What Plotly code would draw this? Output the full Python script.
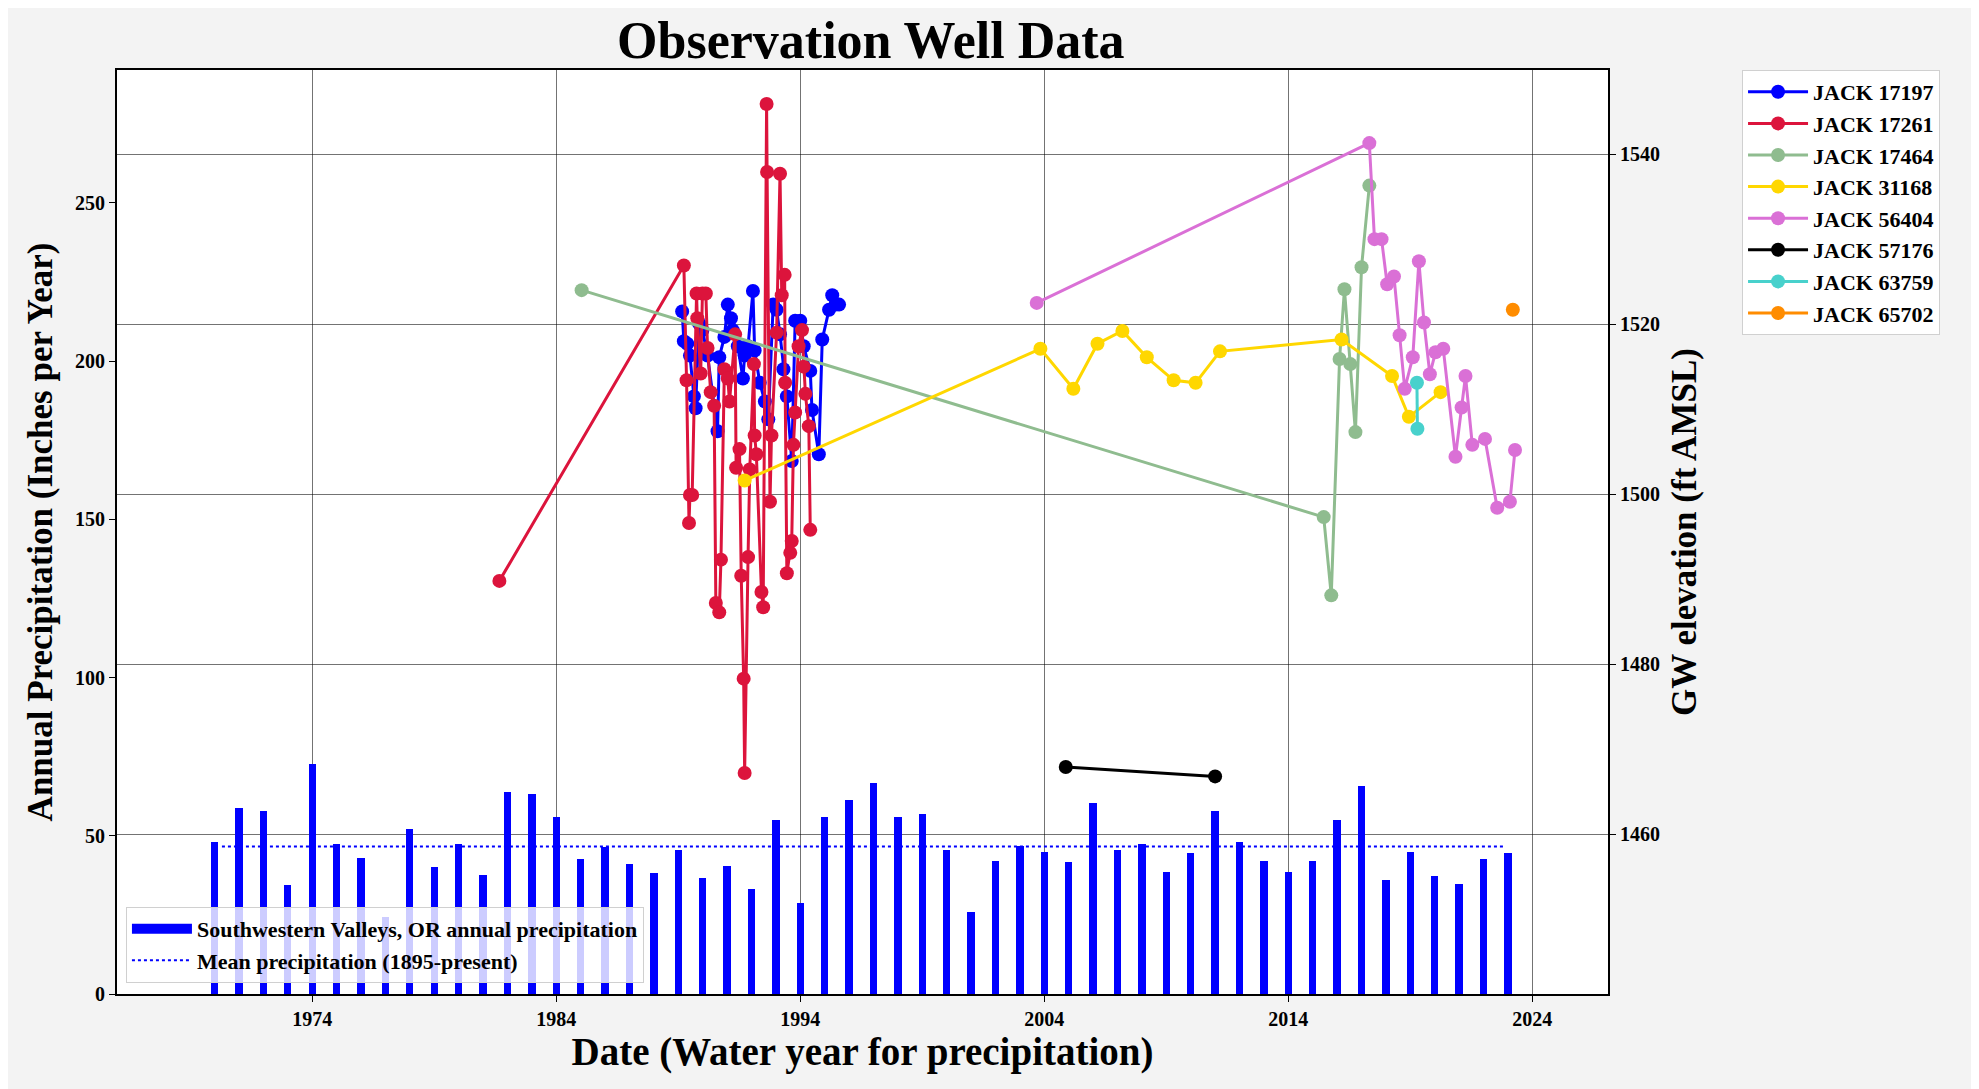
import plotly.graph_objects as go

# ---------------- data ----------------
precip_years = list(range(1970, 2024))
precip_values = [48.1, 58.9, 57.8, 34.3, 72.6, 47.4, 43.1, 24.2, 52.0, 40.2,
                 47.4, 37.7, 63.8, 63.2, 55.9, 42.6, 46.6, 41.0, 38.2, 45.5,
                 36.7, 40.6, 33.2, 54.9, 28.9, 55.9, 61.4, 66.7, 55.9, 57.0,
                 45.5, 25.9, 42.1, 46.8, 45.0, 41.6, 60.3, 45.5, 47.3, 38.6,
                 44.5, 57.8, 47.9, 42.1, 38.6, 42.1, 54.9, 65.6, 36.1, 44.9,
                 37.2, 34.8, 42.6, 44.5]
mean_precip = 46.6
mean_span = [1970.3, 2022.8]

jack17197_x = [1989.16, 1989.23, 1989.37, 1989.48, 1989.64, 1989.71, 1989.85, 1989.99,
               1990.20, 1990.61, 1990.68, 1990.89, 1991.03, 1991.16, 1991.23, 1991.44,
               1991.65, 1991.72, 1991.86, 1992.06, 1992.13, 1992.34, 1992.55, 1992.69,
               1992.89, 1993.03, 1993.17, 1993.31, 1993.45, 1993.65, 1993.79, 1994.00,
               1994.14, 1994.41, 1994.48, 1994.76, 1994.90, 1995.18, 1995.31, 1995.45,
               1995.59]
jack17197_y = [1521.5, 1518.0, 1517.7, 1516.3, 1511.5, 1510.1, 1520.1, 1519.3,
               1516.3, 1507.4, 1516.1, 1518.5, 1522.3, 1520.7, 1519.3, 1517.4,
               1513.6, 1516.3, 1517.4, 1523.9, 1516.9, 1513.1, 1510.9, 1508.8,
               1522.3, 1521.7, 1518.8, 1514.7, 1511.5, 1503.9, 1520.4, 1520.4,
               1517.4, 1514.5, 1509.9, 1504.7, 1518.2, 1521.7, 1523.4, 1522.3,
               1522.3]

jack17261_x = [1981.67, 1989.23, 1989.34, 1989.44, 1989.48, 1989.57, 1989.75, 1989.78,
               1989.92, 1989.99, 1990.13, 1990.20, 1990.33, 1990.47, 1990.54, 1990.68,
               1990.75, 1990.89, 1991.03, 1991.10, 1991.33, 1991.37, 1991.51, 1991.58,
               1991.68, 1991.72, 1991.86, 1991.93, 1992.10, 1992.13, 1992.20, 1992.41,
               1992.48, 1992.62, 1992.64, 1992.76, 1992.82, 1993.03, 1993.17, 1993.24,
               1993.36, 1993.38, 1993.45, 1993.59, 1993.65, 1993.72, 1993.79, 1993.93,
               1994.07, 1994.14, 1994.21, 1994.35, 1994.41]
jack17261_y = [1489.8, 1526.9, 1513.4, 1496.6, 1499.9, 1499.9, 1523.6, 1520.7,
               1514.2, 1523.6, 1523.6, 1517.2, 1512.0, 1510.4, 1487.2, 1486.1,
               1492.3, 1514.7, 1513.6, 1510.9, 1518.8, 1503.1, 1505.3, 1490.4,
               1478.3, 1467.2, 1492.6, 1502.9, 1515.3, 1506.9, 1504.7, 1488.5,
               1486.7, 1545.9, 1537.9, 1499.1, 1506.9, 1519.0, 1537.7, 1523.4,
               1525.8, 1513.1, 1490.7, 1493.1, 1494.5, 1505.8, 1509.6, 1517.4,
               1519.3, 1515.0, 1511.8, 1508.0, 1495.8]

jack17464_x = [1985.04, 2015.45, 2015.76, 2016.10, 2016.30, 2016.54, 2016.75, 2017.00, 2017.32]
jack17464_y = [1524.0, 1497.3, 1488.1, 1515.9, 1524.1, 1515.3, 1507.3, 1526.7, 1536.3]

jack31168_x = [1991.72, 2003.84, 2005.19, 2006.18, 2007.20, 2008.20, 2009.30, 2010.20,
               2011.20, 2016.18, 2018.25, 2018.94, 2020.24]
jack31168_y = [1501.6, 1517.1, 1512.4, 1517.7, 1519.2, 1516.1, 1513.4, 1513.1,
               1516.8, 1518.2, 1513.9, 1509.1, 1512.0]

jack56404_x = [2003.69, 2017.32, 2017.53, 2017.82, 2018.05, 2018.33, 2018.56, 2018.77,
               2019.10, 2019.35, 2019.56, 2019.80, 2020.03, 2020.35, 2020.85, 2021.10,
               2021.26, 2021.54, 2022.06, 2022.56, 2023.08, 2023.29]
jack56404_y = [1522.5, 1541.3, 1530.0, 1530.0, 1524.7, 1525.6, 1518.7, 1512.4,
               1516.1, 1527.4, 1520.2, 1514.1, 1516.7, 1517.1, 1504.4, 1510.2,
               1513.9, 1505.8, 1506.5, 1498.4, 1499.1, 1505.2]

jack57176_x = [2004.88, 2011.00]
jack57176_y = [1467.9, 1466.8]

jack63759_x = [2019.27, 2019.29]
jack63759_y = [1513.1, 1507.7]

jack65702_x = [2023.20]
jack65702_y = [1521.7]

wells = [
    ("JACK 17197", jack17197_x, jack17197_y, "#0000ff"),
    ("JACK 17261", jack17261_x, jack17261_y, "#dc143c"),
    ("JACK 17464", jack17464_x, jack17464_y, "#8fbc8f"),
    ("JACK 31168", jack31168_x, jack31168_y, "#ffd700"),
    ("JACK 56404", jack56404_x, jack56404_y, "#da70d6"),
    ("JACK 57176", jack57176_x, jack57176_y, "#000000"),
    ("JACK 63759", jack63759_x, jack63759_y, "#48d1cc"),
    ("JACK 65702", jack65702_x, jack65702_y, "#ff8c00"),
]

x_ticks = [1974, 1984, 1994, 2004, 2014, 2024]
left_ticks = [0, 50, 100, 150, 200, 250]
right_ticks = [1460, 1480, 1500, 1520, 1540]

# ---------------- figure ----------------
SERIF = "Liberation Serif, Times New Roman, serif"
fig = go.Figure()

fig.add_trace(go.Bar(
    x=precip_years, y=precip_values, width=0.3,
    marker=dict(color="#0000ff", line=dict(width=0)),
    name="Southwestern Valleys, OR annual precipitation",
    showlegend=False, yaxis="y"))
# legend proxy giving the wide rectangular patch used for the bars
fig.add_trace(go.Scatter(
    x=[None], y=[None], mode="lines",
    line=dict(color="#0000ff", width=16),
    name="Southwestern Valleys, OR annual precipitation",
    legend="legend2", yaxis="y"))
fig.add_trace(go.Scatter(
    x=mean_span, y=[mean_precip, mean_precip], mode="lines",
    line=dict(color="#0000ff", width=2, dash="dot"),
    name="Mean precipitation (1895-present)",
    legend="legend2", yaxis="y"))

for name, xs, ys, col in wells:
    fig.add_trace(go.Scatter(
        x=xs, y=ys, mode="lines+markers", name=name,
        line=dict(color=col, width=3),
        marker=dict(color=col, size=14),
        yaxis="y2", legend="legend"))

fig.update_layout(
    width=1979, height=1089,
    paper_bgcolor="#f3f3f3", plot_bgcolor="#ffffff",
    margin=dict(l=109, r=379, t=62, b=103, autoexpand=False),
    font=dict(family=SERIF, color="#000000"),
    title=dict(text="<b>Observation Well Data</b>", x=0.436, xanchor="center",
               y=0.971, yanchor="middle",
               font=dict(family=SERIF, size=52, color="#000000")),
    showlegend=True,
    xaxis=dict(range=[1966, 2027.1], tickmode="array", tickvals=x_ticks,
               ticktext=[str(t) for t in x_ticks], automargin=False,
               showgrid=True, gridcolor="rgba(0,0,0,0.55)", gridwidth=1,
               showline=True, linecolor="#000000", linewidth=2, mirror=True,
               ticks="outside", ticklen=6, tickcolor="#000000",
               tickfont=dict(family=SERIF, size=20, weight="bold"),
               title=dict(text="<b>Date (Water year for precipitation)</b>",
                          font=dict(family=SERIF, size=39), standoff=6),
               zeroline=False),
    yaxis=dict(range=[0, 292], tickmode="array", tickvals=left_ticks,
               showgrid=False, zeroline=False, automargin=False,
               showline=True, linecolor="#000000", linewidth=2,
               ticks="outside", ticklen=6, tickcolor="#000000",
               tickfont=dict(family=SERIF, size=20, weight="bold"),
               title=dict(text="<b>Annual Precipitation (Inches per Year)</b>",
                          font=dict(family=SERIF, size=35), standoff=12)),
    yaxis2=dict(range=[1441.2, 1549.9], overlaying="y", side="right",
                tickmode="array", tickvals=right_ticks, automargin=False,
                showgrid=True, gridcolor="rgba(0,0,0,0.55)", gridwidth=1,
                zeroline=False,
                showline=True, linecolor="#000000", linewidth=2,
                ticks="outside", ticklen=6, tickcolor="#000000",
                tickfont=dict(family=SERIF, size=20, weight="bold"),
                title=dict(text="<b>GW elevation (ft AMSL)</b>",
                           font=dict(family=SERIF, size=35), standoff=12)),
    legend=dict(x=1.0899, y=1.0, xanchor="left", yanchor="top",
                bgcolor="#ffffff", bordercolor="#d0d0d0", borderwidth=1,
                font=dict(family=SERIF, size=22, weight="bold"),
                tracegroupgap=0, itemwidth=60),
    legend2=dict(x=0.006, y=0.012, xanchor="left", yanchor="bottom",
                 bgcolor="rgba(255,255,255,0.8)", bordercolor="#d0d0d0", borderwidth=1,
                 font=dict(family=SERIF, size=22, weight="bold"),
                 itemwidth=60),
    bargap=0,
)

fig.write_html("out.html")
